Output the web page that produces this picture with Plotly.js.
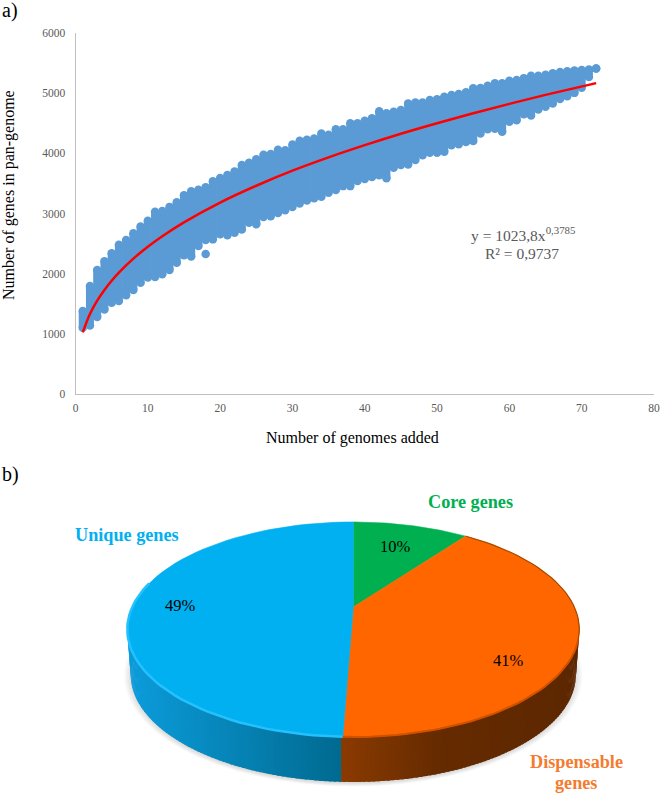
<!DOCTYPE html>
<html>
<head>
<meta charset="utf-8">
<script src="https://cdn.plot.ly/plotly-3.0.1.min.js"></script>
<style>html,body{margin:0;padding:0;background:#fff}</style>
</head>
<body>
<div id="chart" style="width:660px;height:794px"></div>
<script>
// ---------- data ----------
var genomes = [1,2,3,4,5,6,7,8,9,10,11,12,13,14,15,16,17,18,19,20,21,22,23,24,25,26,27,28,29,30,31,32,33,34,35,36,
  37,38,39,40,41,42,43,44,45,46,47,48,49,50,51,52,53,54,55,56,57,58,59,60,61,62,63,64,65,66,67,68,69,70,71,72];
var panHigh = [1380,1795,2060,2207,2340,2480,2560,2670,2785,2880,3030,3040,3110,3185,3305,3370,3395,3435,3535,3590,3640,3700,3805,3845,3900,3975,3990,4060,4050,4145,4210,4225,4245,4330,4310,4400,
  4400,4500,4500,4540,4585,4700,4665,4690,4720,4830,4845,4845,4885,4900,4940,4970,4985,5015,5080,5085,5125,5165,5165,5205,5220,5250,5290,5290,5305,5330,5350,5365,5375,5385,5395,5410];
var panLow = [1100,1140,1280,1405,1515,1545,1640,1730,1850,1935,1945,1990,2060,2180,2305,2285,2460,2560,2570,2655,2640,2680,2735,2845,2820,2940,2955,3010,3055,3110,3165,3215,3255,3280,3345,3390,
  3455,3455,3540,3575,3605,3635,3585,3760,3805,3815,3890,3970,4010,4010,4025,4135,4150,4190,4205,4330,4400,4410,4360,4525,4550,4650,4630,4730,4775,4830,4905,4950,5005,5090,5270,5410];
var outlierX = [18];
var outlierY = [2325];
var trendX = [1,2,3,4,5,6,8,10,12,15,20,25,30,35,40,45,50,55,60,65,72];
var trendY = [1024,1331,1551,1730,1883,2018,2250,2447,2622,2853,3181,3461,3712,3933,4136,4326,4501,4665,4822,4971,5167];
var xTicks = [0,10,20,30,40,50,60,70,80];
var yTicks = [0,1000,2000,3000,4000,5000,6000];
var pieLabels = ['Core genes','Dispensable genes','Unique genes'];
var pieValues = [10.1,40.5,49.4];
var pieColors = ['#00b050','#ff6600','#00b0f0'];

// ---------- pixel-like geometry of the tilted pie ----------
var W = 660, H = 794;
var cx = 353.3, cy = 607, B = 221, A = 102.8, tilt = 0.209, wall = 45;
function P(deg){
  var t = deg*Math.PI/180, u = Math.sin(t), v = Math.cos(t), d = 1 + tilt*v;
  return [cx + B*u/d, cy - A*v/d];
}
function Q(deg){ var p = P(deg); return [cx + 0.985*(p[0]-cx), p[1] + wall]; }
function range(a,b,n){ var o=[]; for(var i=0;i<=n;i++) o.push(a+(b-a)*i/n); return o; }
function hex(c){ return [parseInt(c.substr(1,2),16),parseInt(c.substr(3,2),16),parseInt(c.substr(5,2),16)]; }
function mix(a,b,t){ var x=hex(a),y=hex(b); return 'rgb('+x.map(function(v,i){return Math.round(v+(y[i]-v)*t);}).join(',')+')'; }

function shape(pts, color, lineWidth){
  return {x:pts.map(function(p){return p[0];}), y:pts.map(function(p){return p[1];}),
    xaxis:'x2', yaxis:'y2', mode:'lines', fill:'toself', fillcolor:color,
    line:{color:color, width:lineWidth}, hoverinfo:'skip', showlegend:false};
}
function stroke(pts, color, width){
  return {x:pts.map(function(p){return p[0];}), y:pts.map(function(p){return p[1];}),
    xaxis:'x2', yaxis:'y2', mode:'lines', line:{color:color,width:width}, hoverinfo:'skip', showlegend:false};
}

// slice boundaries in degrees clockwise from 12 o'clock
var total = pieValues.reduce(function(a,b){return a+b;},0), edges=[0];
pieValues.forEach(function(v){ edges.push(edges[edges.length-1] + 360*v/total); });

var traces = [];
// scatter: each column's spread, plus dots at its ends
var colX=[], colY=[];
genomes.forEach(function(g,i){ colX.push(g,g,null); colY.push(panLow[i],panHigh[i],null); });
traces.push({x:colX,y:colY,mode:'lines',line:{color:'#5b9bd5',width:8},hoverinfo:'skip',showlegend:false,cliponaxis:false});
traces.push({x:genomes.concat(genomes,outlierX),y:panHigh.concat(panLow,outlierY),mode:'markers',
  marker:{color:'#5b9bd5',size:8.5},name:'Pan-genome',showlegend:false,cliponaxis:false});
traces.push({x:trendX,y:trendY,mode:'lines',line:{color:'#ff0000',width:2.5,shape:'spline'},name:'Power fit',showlegend:false});

// soft shadow under the pie
for(var s=0;s<9;s++){
  var k = 1.03 - s*0.004;
  traces.push(shape(range(0,360,72).map(function(d){
    var q=Q(d); return [cx+(q[0]-cx)*k, 676+(q[1]-676)*k+1.5];
  }), 'rgba(90,90,90,0.022)', 0));
}
// side wall strips
var N = 170;
range(95,268,N).forEach(function(d,i,arr){
  if(i===arr.length-1) return;
  var next = arr[i+1], mid=(d+next)/2, px=P(mid)[0], c;
  if(mid < edges[2]){
    var t=(px-342)/238;
    c = t<0.4 ? mix('#8a3a00','#662b00',t/0.4) : mix('#662b00','#5c2700',(t-0.4)/0.6);
  } else {
    c = mix('#006a90','#0b9ad8',Math.min(1,(342-px)/205));
  }
  traces.push(shape([P(d),P(next+0.6),Q(next+0.6),Q(d)], c, 0));
});
// top face
pieValues.forEach(function(v,i){
  var arc = range(edges[i],edges[i+1],60).map(P);
  traces.push(shape([[cx,cy]].concat(arc,[[cx,cy]]), pieColors[i], 0.6));
});
// rim highlights
traces.push(stroke(range(edges[2],284,50).map(P),'#25c1ff',2.5));
traces.push(stroke(range(108,edges[2],40).map(P),'#d05200',2));
traces.push(stroke(range(36.5,108,30).map(P),'#a84a00',1.2));

var serif = '"Liberation Serif","Times New Roman",serif';
function note(text,x,y,size,color,bold){
  return {text:bold?'<b>'+text+'</b>':text, xref:'x2',yref:'y2', x:x,y:y, showarrow:false,
    font:{family:serif,size:size,color:color}, xanchor:'center',yanchor:'middle'};
}
function paper(text,x,y,size,color,angle){
  return {text:text, xref:'paper',yref:'paper', x:x/W, y:1-y/H, showarrow:false,
    font:{family:serif,size:size,color:color}, xanchor:'center',yanchor:'middle',textangle:angle||0, align:'center'};
}
var annotations = [
  paper('a)',10,11,20,'#000'),
  paper('b)',10,474,20,'#000'),
  paper('Number of genomes added',352.5,438,16,'#000'),
  paper('Number of genes in pan-genome',9,195,16,'#000',-90),
  paper('y = 1023,8x<sup>0,3785</sup>',523,234,15.5,'#595959'),
  paper('R² = 0,9737',522,253,15.5,'#595959'),
  note(Math.round(pieValues[2])+'%',180,605,16.5,'#000'),
  note(Math.round(pieValues[0])+'%',395,546,16.5,'#000'),
  note(Math.round(pieValues[1])+'%',508,660,16.5,'#000'),
  note('Unique genes',127,535,18.2,'#00b0f0',true),
  note('Core genes',470,502,18.2,'#00b050',true),
  note('Dispensable',576,762,18.2,'#f47b30',true),
  note('genes',576,783,18.2,'#f47b30',true)
];

var layout = {
  width:W, height:H, margin:{l:0,r:0,t:0,b:0}, paper_bgcolor:'#fff', plot_bgcolor:'#fff', showlegend:false,
  font:{family:serif,color:'#595959',size:12},
  xaxis:{domain:[75.5/W,654/W], range:[0,80], tickvals:xTicks, ticks:'', showgrid:false, zeroline:false,
    showline:true, linecolor:'#bfbfbf', linewidth:1, tickfont:{family:serif,size:11.5,color:'#595959'}, anchor:'y', ticklabelstandoff:3},
  yaxis:{domain:[(H-394)/H,(H-33)/H], range:[0,6000], tickvals:yTicks, ticks:'', showgrid:false, zeroline:false,
    showline:true, linecolor:'#bfbfbf', linewidth:1, tickfont:{family:serif,size:11.5,color:'#595959'}, anchor:'x', ticklabelstandoff:7},
  xaxis2:{domain:[0,1], range:[0,W], visible:false, anchor:'y2', fixedrange:true},
  yaxis2:{domain:[0,(H-470)/H], range:[H,470], visible:false, anchor:'x2', fixedrange:true},
  annotations:annotations
};
Plotly.newPlot('chart',traces,layout,{displayModeBar:false,staticPlot:true});
</script>
</body>
</html>
